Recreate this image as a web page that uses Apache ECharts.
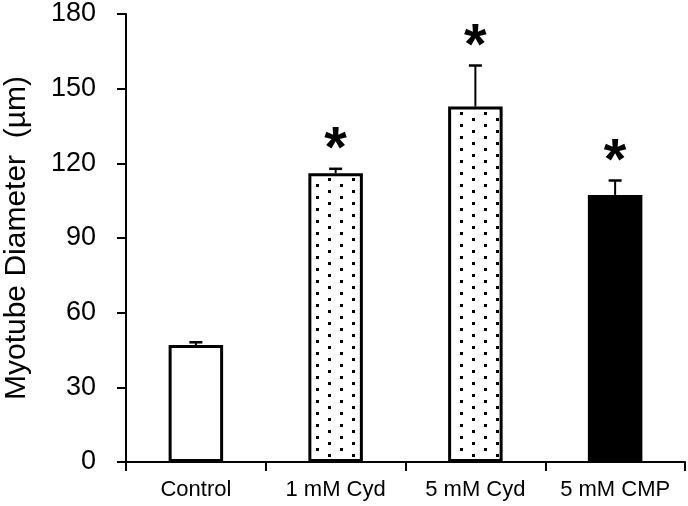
<!DOCTYPE html>
<html>
<head>
<meta charset="utf-8">
<script src="https://cdn.jsdelivr.net/npm/echarts@6/dist/echarts.min.js"></script>
<style>
html,body{margin:0;padding:0;background:#fff;}
#chart{width:688px;height:506px;}
</style>
</head>
<body>
<div id="chart"></div>
<script>
// ---- data ----
var categories = ['Control', '1 mM Cyd', '5 mM Cyd', '5 mM CMP'];
var means = [47.0, 116.0, 142.8, 107.3];
var errors = [1.1, 1.8, 16.5, 5.8];
var marks = ['', '*', '*', '*'];
var fills = ['white', 'dots', 'dots', 'black'];
var yTicks = [0, 30, 60, 90, 120, 150, 180];

// dotted pattern tile
function makeDots() {
  var c = document.createElement('canvas');
  c.width = 24; c.height = 12;
  var g = c.getContext('2d');
  g.fillStyle = '#fff';
  g.fillRect(0, 0, 24, 12);
  g.fillStyle = '#000';
  g.fillRect(4, 4, 3, 3);
  g.fillRect(16, 10, 3, 2);
  g.fillRect(16, 0, 3, 1);
  return c;
}
var dotPattern = { image: makeDots(), repeat: 'repeat' };

function fillFor(kind) {
  if (kind === 'dots') return dotPattern;
  if (kind === 'black') return '#000';
  return '#fff';
}

var barData = means.map(function (v, i) {
  return { value: v, itemStyle: { color: fillFor(fills[i]) } };
});
var errData = means.map(function (v, i) { return [i, v, v + errors[i], marks[i]]; });

var chart = echarts.init(document.getElementById('chart'), null, { renderer: 'canvas' });
chart.setOption({
  animation: false,
  backgroundColor: '#fff',
  grid: { left: 126, right: 3, top: 14, bottom: 44, containLabel: false, outerBoundsMode: 'none' },
  xAxis: {
    type: 'category',
    data: categories,
    axisLine: { lineStyle: { color: '#000', width: 2 } },
    axisTick: { show: true, length: 9, lineStyle: { color: '#000', width: 2 } },
    axisLabel: { color: '#000', fontFamily: 'Liberation Sans, Arial', fontSize: 22, margin: 17, interval: 0 },
    splitLine: { show: false }
  },
  yAxis: {
    type: 'value',
    min: 0, max: 180, interval: 30,
    name: 'Myotube Diameter  (µm)',
    nameLocation: 'middle',
    nameGap: 94,
    nameTextStyle: { color: '#000', fontFamily: 'Liberation Sans, Arial', fontSize: 30 },
    axisLine: { show: true, lineStyle: { color: '#000', width: 2 } },
    axisTick: { show: true, length: 9, lineStyle: { color: '#000', width: 2 } },
    axisLabel: { color: '#000', fontFamily: 'Liberation Sans, Arial', fontSize: 27, margin: 30,
      formatter: function (v) { return yTicks.indexOf(v) >= 0 ? String(v) : ''; } },
    splitLine: { show: false }
  },
  series: [
    {
      type: 'bar',
      data: barData,
      barWidth: '39%',
      itemStyle: { borderColor: '#000', borderWidth: 3 },
      z: 2
    },
    {
      type: 'custom',
      data: errData,
      z: 3,
      renderItem: function (params, api) {
        var x = api.coord([api.value(0), api.value(1)])[0];
        var y0 = api.coord([api.value(0), api.value(1)])[1];
        var y1 = api.coord([api.value(0), api.value(2)])[1];
        var half = 6.5;
        var children = [
          { type: 'line', shape: { x1: x, y1: y0, x2: x, y2: y1 }, style: { stroke: '#000', lineWidth: 2 } },
          { type: 'line', shape: { x1: x - half, y1: y1, x2: x + half, y2: y1 }, style: { stroke: '#000', lineWidth: 2.5 } }
        ];
        var m = marks[params.dataIndex];
        if (m) {
          children.push({ type: 'text', x: x, y: y1 - 18,
            style: { text: m, fill: '#000', font: 'bold 58px "Liberation Sans", Arial', textAlign: 'center', textVerticalAlign: 'middle' } });
        }
        return { type: 'group', children: children };
      }
    }
  ]
});
</script>
</body>
</html>
